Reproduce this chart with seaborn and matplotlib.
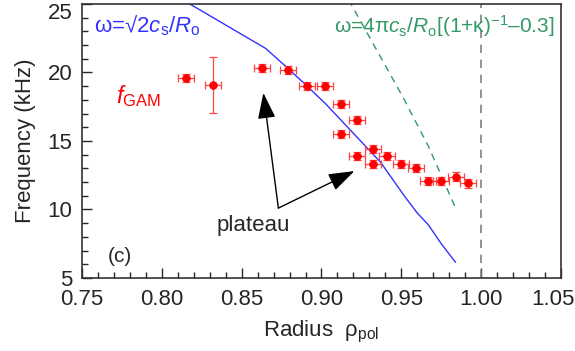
import matplotlib
matplotlib.use("Agg")
import matplotlib.pyplot as plt
import matplotlib.transforms as mtransforms
import seaborn as sns
from matplotlib.ticker import MultipleLocator

# measured GAM frequency
rho = [0.815, 0.832, 0.863, 0.879, 0.891, 0.902, 0.912, 0.922, 0.912, 0.922,
       0.932, 0.932, 0.941, 0.950, 0.959, 0.967, 0.975, 0.984, 0.992]
freq = [19.6, 19.1, 20.3, 20.2, 19.0, 19.0, 17.7, 16.5, 15.5, 13.9,
        14.4, 13.3, 13.9, 13.3, 13.0, 12.1, 12.1, 12.4, 11.9]
freq_err = [0.3, 2.05, 0.3, 0.3, 0.3, 0.3, 0.3, 0.3, 0.3, 0.3,
            0.3, 0.3, 0.3, 0.3, 0.3, 0.3, 0.3, 0.3, 0.3]
rho_err = [0.005] * len(rho)

# omega = sqrt(2) cs / R0
blue_rho = [0.813, 0.865, 0.878, 0.891, 0.903, 0.918, 0.937, 0.952, 0.960, 0.967, 0.975, 0.984]
blue_f = [25.3, 21.75, 20.4, 19.0, 17.66, 15.8, 13.45, 10.97, 9.74, 8.87, 7.5, 6.14]

# omega = 4 pi cs / R0 [(1+k)^-1 - 0.3]
green_rho = [0.917, 0.951, 0.967, 0.984]
green_f = [25.3, 18.2, 14.6, 10.1]

xticks = [0.75, 0.80, 0.85, 0.90, 0.95, 1.00, 1.05]
xticklabels = ["0.75", "0.80", "0.85", "0.90", "0.95", "1.00", "1.05"]
yticks = [5, 10, 15, 20, 25]

sns.set_style("ticks")
plt.rcParams["font.family"] = ["Liberation Sans", "DejaVu Sans"]
plt.rcParams["mathtext.fontset"] = "custom"
plt.rcParams["mathtext.rm"] = "Liberation Sans"
plt.rcParams["mathtext.it"] = "Liberation Sans:italic"

fig = plt.figure(figsize=(5.75, 3.51), dpi=100)
ax = fig.add_axes([0.1426, 0.208, 0.833, 0.781])

sns.lineplot(x=blue_rho, y=blue_f, color="#3333ff", lw=1.0, ax=ax, sort=False)
ax.plot(green_rho, green_f, color="#339966", lw=1.0, ls=(0, (5, 4)))
ax.axvline(1.0, color="#808080", lw=1.2, ls=(0, (5, 4)))

ax.errorbar(rho, freq, xerr=rho_err, yerr=freq_err, fmt="none", ecolor="#ff4444",
            elinewidth=0.9, capsize=3, capthick=0.9)
sns.scatterplot(x=rho, y=freq, color="#ff0000", s=32, edgecolor="#ff0000", ax=ax, zorder=5)

ax.set_xlim(0.75, 1.05)
ax.set_ylim(5, 25)
ax.set_xticks(xticks)
ax.set_xticklabels(xticklabels)
ax.set_yticks(yticks)
ax.xaxis.set_minor_locator(MultipleLocator(0.01))
ax.yaxis.set_minor_locator(MultipleLocator(1))
ax.tick_params(which="major", direction="in", length=7, width=1, labelsize=16,
               top=False, right=False)
ax.tick_params(axis="x", which="major", pad=8)
ax.tick_params(axis="y", which="major", pad=7)
ax.tick_params(which="minor", direction="in", length=4, width=1)
for s in ax.spines.values():
    s.set_linewidth(1.2)
    s.set_color("#333333")
    s.set_visible(True)

# keep the end labels inside the figure
xt = ax.xaxis.get_major_ticks()[-1].label1
xt.set_transform(xt.get_transform() + mtransforms.ScaledTranslation(-8 / 100, 0, fig.dpi_scale_trans))
yt = ax.yaxis.get_major_ticks()[-1].label1
yt.set_transform(yt.get_transform() + mtransforms.ScaledTranslation(0, -7 / 100, fig.dpi_scale_trans))

ax.set_xlabel("Radius  ρ$_{\\rm pol}$", fontsize=16, labelpad=6)
ax.set_ylabel("Frequency (kHz)", fontsize=16, labelpad=8)

ax.text(0.7575, 23.4, "ω=√2$c_{\\rm s}/R_{\\rm o}$", color="#3333ff",
        fontsize=16, va="center", ha="left")
ax.text(1.046, 23.4, "ω=4π$c_{\\rm s}/R_{\\rm o}$[(1+κ)$^{-1}$–0.3]",
        color="#339966", fontsize=15, va="center", ha="right")
ax.text(0.771, 18.3, "$f_{\\rm GAM}$", color="#ff0000", fontsize=17, va="center", ha="left")
ax.text(0.766, 6.6, "(c)", fontsize=15, va="center", ha="left")
ax.text(0.857, 8.8, "plateau", fontsize=16, va="center", ha="center")

arrow = dict(arrowstyle="-|>,head_width=0.55,head_length=1.6", color="black", lw=1.0,
             shrinkA=0, shrinkB=0, mutation_scale=10)
ax.annotate("", xy=(0.8636, 18.5), xytext=(0.873, 10.1), arrowprops=arrow)
ax.annotate("", xy=(0.9206, 12.8), xytext=(0.873, 10.1), arrowprops=arrow)

fig.savefig("out.png", dpi=100)
